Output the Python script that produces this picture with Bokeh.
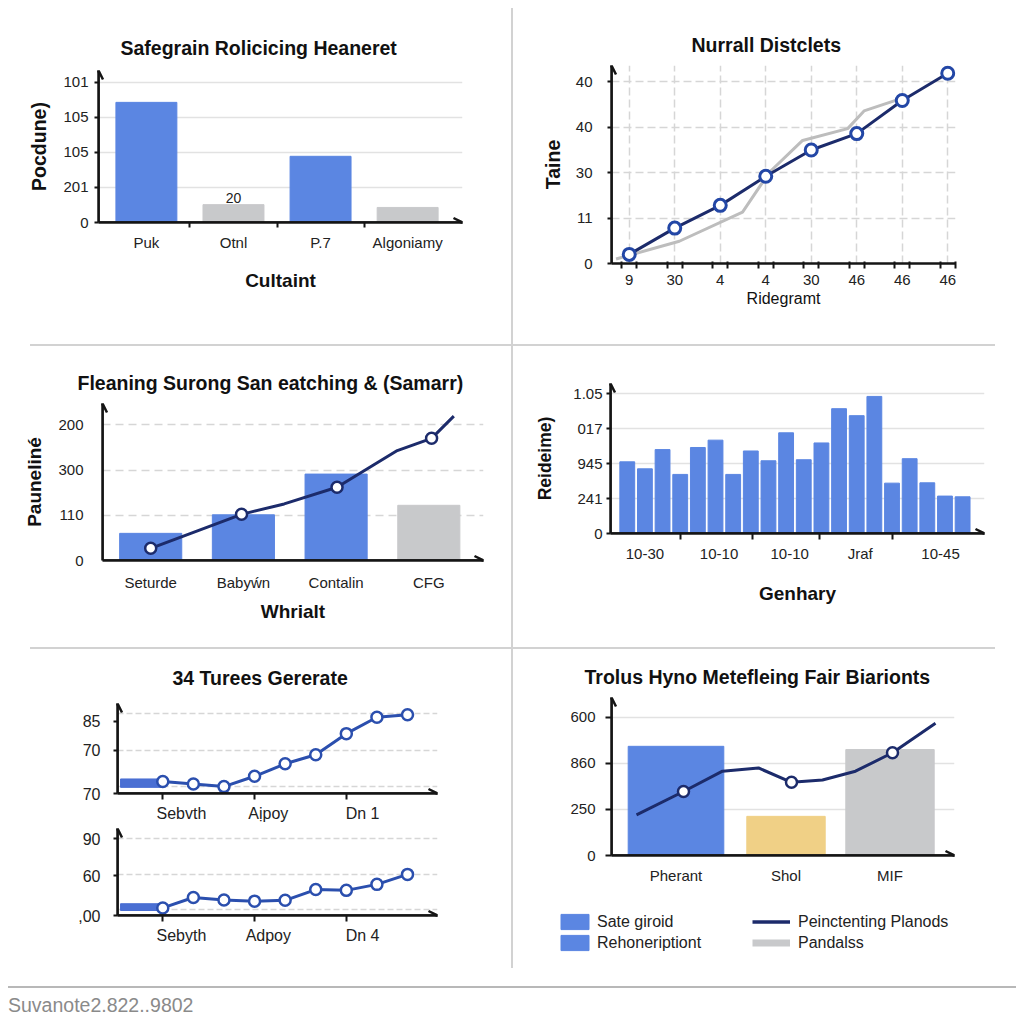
from bokeh.plotting import figure
from bokeh.models import FixedTicker, Arrow, OpenHead, Legend, LegendItem, Div, Spacer, Range1d
from bokeh.layouts import row, column
from bokeh.embed import file_html
from bokeh.resources import INLINE
from bokeh.core.properties import value

# ---------------- data ----------------
# Panel 1 (top left)
p1_title = "Safegrain Rolicicing Heaneret"
p1_categories = ["Puk", "Otnl", "P.7", "Algoniamy"]
p1_values = [3.43, 0.51, 1.89, 0.43]
p1_yticks = [0, 1, 2, 3, 4]
p1_ytick_labels = ["0", "201", "105", "105", "101"]
p1_note = ["20"]
p1_note_index = [1]
p1_xlabel = "Cultaint"
p1_ylabel = "Pocdune)"

# Panel 2 (top right)
p2_title = "Nurrall Distclets"
p2_xtick_labels = ["9", "30", "4", "4", "30", "46", "46", "46"]
p2_dark_y = [0.20, 0.78, 1.28, 1.92, 2.50, 2.86, 3.59, 4.19]
p2_grey_x = [-0.29, 1.10, 2.49, 3.08, 3.81, 4.80, 5.16, 5.97]
p2_grey_y = [0.10, 0.49, 1.13, 2.01, 2.71, 2.97, 3.36, 3.63]
p2_yticks = [0, 1, 2, 3, 4]
p2_ytick_labels = ["0", "11", "30", "40", "40"]
p2_xlabel = "Ridegramt"
p2_ylabel = "Taine"

# Panel 3 (middle left)
p3_title = "Fleaning Surong San eatching & (Samarr)"
p3_categories = ["Seturde", "Babyẃn", "Contalin", "CFG"]
p3_bars = [0.60, 1.01, 1.91, 1.22]
p3_line_x = [0.50, 1.48, 1.94, 2.51, 3.16, 3.53, 3.77]
p3_line_y = [0.27, 1.02, 1.25, 1.62, 2.43, 2.70, 3.19]
p3_marker_index = [0, 1, 3, 5]
p3_yticks = [0, 1, 2, 3]
p3_ytick_labels = ["0", "110", "300", "200"]
p3_xlabel = "Whrialt"
p3_ylabel = "Pauneliné"

# Panel 4 (middle right)
p4_values = [2.05, 1.85, 2.40, 1.69, 2.46, 2.67, 1.69, 2.36, 2.08, 2.88,
             2.11, 2.59, 3.57, 3.37, 3.92, 1.44, 2.14, 1.45, 1.07, 1.05]
p4_xtick_labels = ["10-30", "10-10", "10-10", "Jraf", "10-45"]
p4_yticks = [0, 1, 2, 3, 4]
p4_ytick_labels = ["0", "241", "945", "017", "1.05"]
p4_xlabel = "Genhary"
p4_ylabel = "Reideime)"

# Panel 5 (bottom left, two stacked series)
p5_title = "34 Turees Gererate"
p5a_values = [0.28, 0.22, 0.16, 0.40, 0.69, 0.90, 1.39, 1.77, 1.83]
p5a_band_left = [-1.38]
p5a_band_y = [0.24]
p5a_xtick_labels = ["Sebvth", "Aịpoy", "Dn 1"]
p5a_yticks = [0, 1.0, 1.68]
p5a_ytick_labels = ["70", "70", "85"]
p5b_values = [0.19, 0.45, 0.39, 0.36, 0.38, 0.65, 0.63, 0.78, 1.03]
p5b_band_left = [-1.38]
p5b_band_y = [0.21]
p5b_xtick_labels = ["Sebyth", "Adpoy", "Dn 4"]
p5b_yticks = [0, 1.0, 1.92]
p5b_ytick_labels = [",00", "60", "90"]

# Panel 6 (bottom right)
p6_title = "Trolus Hyno Metefleing Fair Biarionts"
p6_categories = ["Pherant", "Shol", "MIF"]
p6_bars = [2.37, 0.85, 2.30]
p6_line_x = [0.25, 0.72, 1.11, 1.47, 1.80, 2.11, 2.44, 2.81, 3.24]
p6_line_y = [0.88, 1.39, 1.83, 1.90, 1.59, 1.64, 1.83, 2.23, 2.87]
p6_marker_index = [1, 4, 7]
p6_yticks = [0, 1, 2, 3]
p6_ytick_labels = ["0", "250", "860", "600"]
p6_legend_left = ["Sate giroid", "Rehoneriptiont"]
p6_legend_right = ["Peinctenting Planods", "Pandalss"]

footer_text = "Suvanote2.822..9802"

# ---------------- style ----------------
FONT = "Liberation Sans"
BLUE = "#5b86e2"
GREY = "#c8c9cb"
NAVY = "#1c2b6b"
YELLOW = "#f0d086"
LINEBLUE = "#2b4fae"
BANDBLUE = "#4a6fd3"
AXIS = "#151515"
TXT = "#222222"
DARK = "#111111"
GRID = "#e2e2e2"
DGRID = "#d6d6d6"
SEP = "#d2d2d2"
NAN = float("nan")


def base_fig(w, h, bl, br, bt, bb, xr, yr):
    p = figure(width=w, height=h, x_range=Range1d(*xr), y_range=Range1d(*yr),
               output_backend="svg", toolbar_location=None,
               min_border_left=bl, min_border_right=br,
               min_border_top=bt, min_border_bottom=bb)
    p.outline_line_color = None
    p.border_fill_color = "white"
    p.background_fill_color = "white"
    p.xgrid.visible = False
    p.ygrid.grid_line_color = GRID
    p.ygrid.grid_line_width = 1.5
    for ax in (p.xaxis[0], p.yaxis[0]):
        ax.axis_line_color = AXIS
        ax.axis_line_width = 2.5
        ax.major_tick_line_color = AXIS
        ax.major_tick_line_width = 2
        ax.minor_tick_line_color = AXIS
        ax.minor_tick_line_width = 2
        ax.major_tick_in = 0
        ax.major_tick_out = 0
        ax.minor_tick_in = 0
        ax.minor_tick_out = 0
        ax.major_label_text_font = FONT
        ax.major_label_text_font_size = "15px"
        ax.major_label_text_color = TXT
        ax.axis_label_text_font = FONT
        ax.axis_label_text_font_size = "19px"
        ax.axis_label_text_font_style = "bold"
        ax.axis_label_text_color = DARK
    p.title.text_font = FONT
    p.title.text_font_size = "19.5px"
    p.title.text_font_style = "bold"
    p.title.text_color = DARK
    p.title.align = "left"
    return p


def set_title(p, text, offset, standoff):
    p.title.text = text
    p.title.offset = offset
    p.title.standoff = standoff


def arrows(p, x=True, y=True):
    xs, xe = p.x_range.start, p.x_range.end
    ys, ye = p.y_range.start, p.y_range.end
    if x:
        p.add_layout(Arrow(end=OpenHead(size=9, line_width=2.5, line_color=AXIS),
                           x_start=xs, y_start=ys, x_end=xe, y_end=ys,
                           line_color=AXIS, line_width=2.5))
    if y:
        p.add_layout(Arrow(end=OpenHead(size=9, line_width=2.5, line_color=AXIS),
                           x_start=xs, y_start=ys, x_end=xs, y_end=ye,
                           line_color=AXIS, line_width=2.5))


def yticks(p, ticks, labels, tick_out=0, standoff=5):
    p.yaxis.ticker = FixedTicker(ticks=ticks)
    p.yaxis.major_label_overrides = {t: l for t, l in zip(ticks, labels)}
    p.yaxis.major_tick_out = tick_out
    p.yaxis.major_label_standoff = standoff


# ---------------- Panel 1 ----------------
p1_x = [i + 0.5 for i in range(len(p1_categories))]
p1 = base_fig(503, 336, 90, 49, 62, 122, (-0.05, 4.13), (0, 4.34))
set_title(p1, p1_title, 22, 24)
p1.vbar(x=p1_x, top=p1_values, width=0.7, color=[BLUE, GREY, BLUE, GREY])
p1.text(x=[p1_x[i] for i in p1_note_index], y=[p1_values[i] for i in p1_note_index],
        text=p1_note, text_font=value(FONT), text_font_size="14px", text_color=TXT,
        text_align="center", text_baseline="bottom", y_offset=-2)
yticks(p1, p1_yticks, p1_ytick_labels, tick_out=4, standoff=6)
p1.xaxis.ticker = FixedTicker(ticks=p1_x, minor_ticks=[1, 2, 3])
p1.xaxis.major_label_overrides = {x: c for x, c in zip(p1_x, p1_categories)}
p1.xaxis.minor_tick_out = 5
p1.xaxis.major_label_standoff = 6
p1.xaxis.axis_label = p1_xlabel
p1.xaxis.axis_label_standoff = 16
p1.yaxis.axis_label = p1_ylabel
p1.yaxis.axis_label_text_font_size = "19.5px"
p1.yaxis.axis_label_standoff = 10
arrows(p1)

# ---------------- Panel 2 ----------------
p2_x = list(range(len(p2_xtick_labels)))
p2 = base_fig(503, 336, 98, 61, 57, 81, (-0.39, 7.17), (0, 4.36))
set_title(p2, p2_title, 80, 19)
p2.xgrid.visible = True
p2.xgrid.grid_line_color = DGRID
p2.xgrid.grid_line_dash = "8 4"
p2.xgrid.grid_line_width = 1.5
p2.ygrid.grid_line_color = DGRID
p2.ygrid.grid_line_dash = "8 4"
p2.line(p2_grey_x, p2_grey_y, line_color="#bdbdbd", line_width=3)
p2.line(p2_x, p2_dark_y, line_color=NAVY, line_width=3)
p2.scatter(p2_x, p2_dark_y, size=12, fill_color="white", line_color="#2347a6", line_width=3)
yticks(p2, p2_yticks, p2_ytick_labels, tick_out=4, standoff=15)
p2.xaxis.ticker = FixedTicker(ticks=p2_x, minor_ticks=[x + d for x in p2_x for d in (-0.16, 0.16)])
p2.xaxis.major_label_overrides = {x: l for x, l in zip(p2_x, p2_xtick_labels)}
p2.xaxis.minor_tick_out = 5
p2.xaxis.minor_tick_in = 2
p2.xaxis.major_label_standoff = 6
p2.xaxis.axis_label = p2_xlabel
p2.xaxis.axis_label_text_font_style = "normal"
p2.xaxis.axis_label_text_font_size = "16px"
p2.xaxis.axis_label_standoff = 2
p2.yaxis.axis_label = p2_ylabel
p2.yaxis.axis_label_text_font_size = "19.5px"
p2.yaxis.axis_label_standoff = 9
arrows(p2, x=False)

# ---------------- Panel 3 ----------------
p3_x = [i + 0.5 for i in range(len(p3_categories))]
p3 = base_fig(503, 301, 94, 28, 57, 87, (-0.02, 4.09), (0, 3.47))
set_title(p3, p3_title, -25, 19)
p3.ygrid.grid_line_color = DGRID
p3.ygrid.grid_line_dash = "8 5"
p3.vbar(x=p3_x, top=p3_bars, width=0.67, color=[BLUE, BLUE, BLUE, GREY])
p3.line(p3_line_x, p3_line_y, line_color=NAVY, line_width=3)
p3.scatter([p3_line_x[i] for i in p3_marker_index], [p3_line_y[i] for i in p3_marker_index],
           size=11, fill_color="white", line_color=NAVY, line_width=2.5)
yticks(p3, p3_yticks, p3_ytick_labels, tick_out=0, standoff=19)
p3.xaxis.ticker = FixedTicker(ticks=p3_x)
p3.xaxis.major_label_overrides = {x: c for x, c in zip(p3_x, p3_categories)}
p3.xaxis.major_label_standoff = 13
p3.xaxis.axis_label = p3_xlabel
p3.xaxis.axis_label_standoff = 7
p3.yaxis.axis_label = p3_ylabel
p3.yaxis.axis_label_text_font_size = "19px"
p3.yaxis.axis_label_standoff = 10
arrows(p3)

# ---------------- Panel 4 ----------------
p4_x = list(range(len(p4_values)))
p4 = base_fig(503, 301, 97, 32, 37, 114, (-0.95, 20.24), (0, 4.29))
p4.vbar(x=p4_x, top=p4_values, width=0.84, color=BLUE)
yticks(p4, p4_yticks, p4_ytick_labels, tick_out=4, standoff=4)
p4_label_pos = [1.0, 5.2, 9.2, 13.2, 17.75]
p4.xaxis.ticker = FixedTicker(ticks=p4_label_pos, minor_ticks=[3.0, 7.1, 10.9, 15.0])
p4.xaxis.major_label_overrides = {x: l for x, l in zip(p4_label_pos, p4_xtick_labels)}
p4.xaxis.minor_tick_out = 6
p4.xaxis.major_label_standoff = 5
p4.xaxis.axis_label = p4_xlabel
p4.xaxis.axis_label_standoff = 18
p4.yaxis.axis_label = p4_ylabel
p4.yaxis.axis_label_text_font_size = "17.5px"
p4.yaxis.axis_label_standoff = 15
arrows(p4)

# ---------------- Panel 5 ----------------
p5_x = list(range(len(p5a_values)))
p5_label_pos = [0.61, 3.45, 6.53]


def p5_panel(h, bt, bb, yend, values, band_left, band_y, band_h, labels, ticks, tick_labels, grid_ticks):
    p = base_fig(503, h, 109, 74, bt, bb, (-1.48, 8.98), (0, yend))
    p.ygrid.ticker = FixedTicker(ticks=grid_ticks)
    p.ygrid.grid_line_color = DGRID
    p.ygrid.grid_line_dash = "6 3"
    p.hbar(y=band_y, left=band_left, right=[p5_x[0]] * len(band_y), height=band_h, color=BANDBLUE)
    p.line(p5_x, values, line_color=LINEBLUE, line_width=3)
    p.scatter(p5_x, values, size=11, fill_color="white", line_color=LINEBLUE, line_width=2.5)
    yticks(p, ticks, tick_labels, tick_out=4, standoff=13)
    p.xaxis.ticker = FixedTicker(ticks=p5_label_pos, minor_ticks=[0, 3, 6])
    p.xaxis.major_label_overrides = {x: l for x, l in zip(p5_label_pos, labels)}
    p.xaxis.minor_tick_out = 6
    p.xaxis.major_label_standoff = 5
    p.xaxis.major_label_text_font_size = "16px"
    p.yaxis.major_label_text_font_size = "16px"
    arrows(p)
    return p


p5a = p5_panel(176, 54, 32, 2.09, p5a_values, p5a_band_left, p5a_band_y, 0.195,
               p5a_xtick_labels, p5a_yticks, p5a_ytick_labels, [0.16, 1.0, 1.85])
set_title(p5a, p5_title, 55, 29)
p5b = p5_panel(143, 3, 53, 2.18, p5b_values, p5b_band_left, p5b_band_y, 0.17,
               p5b_xtick_labels, p5b_yticks, p5b_ytick_labels, [0.14, 1.03, 1.93])

# ---------------- Panel 6 ----------------
p6_x = [0.645, 1.745, 2.785]
p6 = base_fig(503, 256, 98, 62, 48, 50, (0, 3.43), (0, 3.43))
set_title(p6, p6_title, -27, 19)
p6.vbar(x=p6_x, top=p6_bars, width=[0.956, 0.784, 0.884], color=[BLUE, YELLOW, GREY])
p6.line(p6_line_x, p6_line_y, line_color=NAVY, line_width=3)
p6.scatter([p6_line_x[i] for i in p6_marker_index], [p6_line_y[i] for i in p6_marker_index],
           size=11, fill_color="white", line_color=NAVY, line_width=2.5)
yticks(p6, p6_yticks, p6_ytick_labels, tick_out=6, standoff=10)
p6.xaxis.ticker = FixedTicker(ticks=p6_x)
p6.xaxis.major_label_overrides = {x: c for x, c in zip(p6_x, p6_categories)}
p6.xaxis.major_label_standoff = 11
arrows(p6)

# legend panel under panel 6 (key swatches only; their glyphs hold no points)
pl = figure(width=503, height=63, x_range=Range1d(0, 1), y_range=Range1d(0, 1),
            x_axis_location=None, y_axis_location=None, output_backend="svg",
            toolbar_location=None, min_border=0)
pl.outline_line_color = None
pl.grid.visible = False
pl.border_fill_color = "white"
leg_sq1 = pl.vbar(x=[NAN], top=[NAN], width=0.1, color=BLUE)
leg_sq2 = pl.vbar(x=[NAN], top=[NAN], width=0.1, color=BLUE)
leg_line = pl.line(x=[NAN], y=[NAN], line_color=NAVY, line_width=3.5)
leg_grey = pl.line(x=[NAN], y=[NAN], line_color=GREY, line_width=7)


def style_legend(lg, gw):
    lg.glyph_width = gw
    lg.glyph_height = 19
    lg.label_height = 19
    lg.spacing = 2
    lg.padding = 0
    lg.margin = 0
    lg.border_line_color = None
    lg.background_fill_alpha = 0
    lg.label_text_font = FONT
    lg.label_text_font_size = "16px"
    lg.label_text_color = TXT


leg1 = Legend(items=[LegendItem(label=p6_legend_left[0], renderers=[leg_sq1]),
                     LegendItem(label=p6_legend_left[1], renderers=[leg_sq2])],
              location=(44, 16))
style_legend(leg1, 35)
leg1.label_standoff = 5
leg2 = Legend(items=[LegendItem(label=p6_legend_right[0], renderers=[leg_line]),
                     LegendItem(label=p6_legend_right[1], renderers=[leg_grey])],
              location=(239, 16))
style_legend(leg2, 38)
leg2.label_standoff = 8
pl.add_layout(leg1, "center")
pl.add_layout(leg2, "center")


# ---------------- layout ----------------
def vline(h):
    return Div(width=2, height=h, margin=0, styles={"background-color": SEP})


def hline():
    return row(Spacer(width=22, height=2),
               Div(width=965, height=2, margin=0, styles={"background-color": SEP}))


def box(*items):
    return column(*items)


footer_line = Div(width=1008, height=2, margin=0, styles={"background-color": "#b8b8b8"})
footer = Div(width=1008, height=26, margin=0,
             text='<div style="font-family:\'Liberation Sans\';font-size:19.5px;color:#8a8a8a;'
                  'margin-top:4px;white-space:nowrap">' + footer_text + '</div>')

inner = column(
    row(box(p1), vline(336), box(p2)),
    hline(),
    row(box(p3), vline(301), box(p4)),
    hline(),
    row(box(box(p5a), box(p5b)), vline(319), box(box(p6), box(pl))),
    Spacer(width=1008, height=18),
    footer_line,
    footer,
)
layout = column(Spacer(width=1016, height=8), row(Spacer(width=8, height=10), inner))

open("out.html", "w").write(file_html(layout, INLINE))
